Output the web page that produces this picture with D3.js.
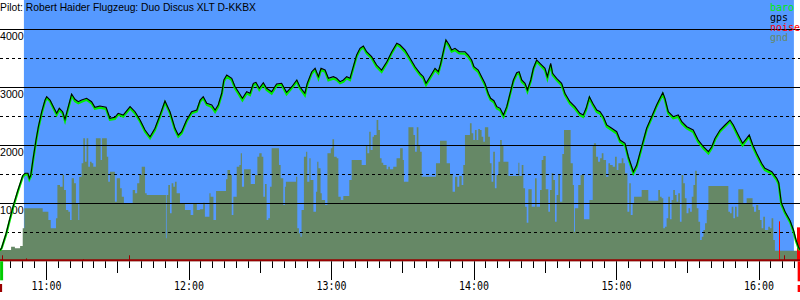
<!DOCTYPE html>
<html><head><meta charset="utf-8">
<script src="https://cdn.jsdelivr.net/npm/d3@7"></script>
<style>html,body{margin:0;padding:0;background:#fff}svg{display:block}</style>
</head><body><svg id="c" width="800" height="300"></svg>
<script>
// ---------------- data ----------------
const title = "Pilot: Robert Haider Flugzeug: Duo Discus XLT D-KKBX";
const legendLabels = ["baro", "gps", "noise", "gnd"];
const altTicksSolid = [1000, 2000, 3000, 4000];
const altTicksDashed = [500, 1500, 2500, 3500];
const hourLabels = ["11:00", "12:00", "13:00", "14:00", "15:00", "16:00"];
// times are minutes after midnight
const viewStartMin = 640.63, viewEndMin = 977.47;
const taskStartMin = 650.7, taskEndMin = 974.9;
const takeoffMin = 641.1, landingMin = 976.9;

const trackMin = [
640.6, 641.3, 643.2, 644.8, 646.5, 648.2, 650.2, 651.2, 652.4, 653.0,
653.6, 654.5, 655.8, 656.8, 658.2, 659.6, 660.3, 661.7, 663.1, 664.5,
665.6, 667.0, 668.0, 669.4, 670.8, 672.2, 673.6, 675.0, 677.1, 679.2,
680.6, 682.7, 685.3, 686.9, 689.0, 690.4, 692.5, 695.4, 697.5, 699.6,
701.7, 703.8, 705.9, 708.0, 710.1, 712.2, 714.3, 715.7, 717.1, 719.2,
721.3, 723.5, 724.9, 726.2, 727.7, 729.8, 731.2, 732.5, 734.0, 734.9,
736.1, 738.2, 739.6, 741.0, 742.7, 744.5, 745.9, 747.3, 748.4, 749.8,
751.5, 752.9, 755.0, 757.1, 759.2, 761.3, 763.5, 765.6, 766.9, 769.0,
770.0, 771.9, 773.3, 774.7, 775.8, 777.5, 778.9, 781.0, 782.4, 783.8,
785.2, 786.6, 788.0, 789.4, 790.8, 792.2, 793.6, 795.0, 797.1, 799.2,
801.3, 803.5, 805.6, 807.7, 809.1, 811.2, 813.3, 815.4, 817.5, 818.9,
820.0, 821.7, 823.8, 825.2, 826.2, 827.6, 828.4, 829.8, 830.8, 832.2,
834.0, 836.4, 837.8, 839.2, 840.2, 842.0, 843.4, 844.8, 846.2, 847.2,
848.6, 849.8, 851.2, 852.6, 854.0, 855.4, 856.8, 858.2, 859.2, 860.3,
861.7, 862.7, 864.1, 865.2, 866.6, 868.0, 870.1, 871.1, 872.5, 873.3,
875.0, 877.1, 878.5, 880.6, 882.7, 884.8, 886.2, 887.4, 888.8, 890.2,
891.9, 893.3, 894.7, 896.1, 898.2, 900.3, 901.7, 903.8, 905.2, 907.3,
908.7, 910.8, 912.9, 915.0, 917.1, 918.5, 919.7, 920.6, 922.0, 924.1,
926.2, 927.7, 929.8, 932.5, 934.6, 936.8, 938.9, 940.3, 941.7, 943.8,
945.9, 948.0, 949.4, 951.5, 953.3, 955.0, 956.1, 957.6, 959.2, 961.3,
962.7, 965.6, 967.7, 968.5, 969.6, 971.2, 973.3, 974.7, 975.8, 976.8,
977.4];

const gpsAlt = [
190, 230, 480, 740, 1000, 1230, 1480, 1517, 1517, 1431,
1488, 1750, 2091, 2321, 2579, 2781, 2838, 2781, 2666, 2552,
2638, 2579, 2448, 2666, 2884, 2793, 2752, 2781, 2810, 2752,
2655, 2678, 2655, 2466, 2483, 2552, 2522, 2666, 2579, 2436,
2264, 2148, 2293, 2522, 2764, 2579, 2293, 2178, 2234, 2436,
2579, 2609, 2781, 2838, 2724, 2695, 2609, 2695, 2897, 3126,
3212, 3155, 3010, 2924, 2810, 2924, 2897, 3069, 3086, 2983,
3079, 2983, 2924, 3057, 3069, 2914, 3010, 3126, 3010, 2897,
3069, 3269, 3328, 3183, 3328, 3298, 3155, 3183, 3155, 3097,
3126, 3183, 3155, 3355, 3557, 3672, 3712, 3614, 3528, 3384,
3298, 3441, 3614, 3759, 3729, 3643, 3500, 3355, 3241, 3183,
3069, 3183, 3328, 3269, 3414, 3672, 3816, 3729, 3643, 3672,
3614, 3614, 3557, 3471, 3355, 3298, 3183, 3069, 2897, 2810,
2769, 2666, 2638, 2522, 2666, 2897, 3126, 3252, 3269, 3126,
3069, 2953, 3126, 3328, 3471, 3414, 3328, 3183, 3414, 3241,
3155, 3069, 2897, 2752, 2666, 2552, 2522, 2638, 2838, 2724,
2609, 2579, 2493, 2350, 2293, 2234, 2091, 2034, 1803, 1545,
1660, 1976, 2293, 2493, 2695, 2810, 2907, 2810, 2579, 2493,
2522, 2407, 2321, 2264, 2091, 1976, 1890, 1976, 2121, 2264,
2350, 2436, 2350, 2178, 2034, 2121, 2178, 2005, 1862, 1690,
1603, 1545, 1430, 1360, 1010, 855, 700, 540, 370, 250,
200];

const baroAlt = [
185, 220, 460, 715, 975, 1205, 1455, 1500, 1495, 1410,
1460, 1720, 2065, 2295, 2550, 2755, 2815, 2760, 2640, 2525,
2610, 2555, 2420, 2640, 2855, 2760, 2725, 2750, 2785, 2725,
2630, 2650, 2625, 2440, 2455, 2530, 2495, 2640, 2550, 2410,
2235, 2120, 2265, 2495, 2740, 2550, 2265, 2150, 2205, 2410,
2555, 2585, 2755, 2810, 2695, 2660, 2575, 2665, 2870, 3100,
3185, 3125, 2980, 2890, 2775, 2895, 2865, 3040, 3060, 2955,
3050, 2955, 2890, 3030, 3045, 2880, 2985, 3100, 2980, 2860,
3040, 3240, 3300, 3150, 3300, 3270, 3120, 3150, 3125, 3070,
3095, 3155, 3125, 3330, 3530, 3645, 3690, 3585, 3500, 3355,
3265, 3415, 3590, 3735, 3700, 3610, 3470, 3325, 3210, 3150,
3040, 3155, 3300, 3240, 3390, 3650, 3790, 3700, 3615, 3640,
3585, 3580, 3525, 3440, 3325, 3265, 3150, 3040, 2870, 2780,
2740, 2635, 2605, 2495, 2640, 2875, 3100, 3225, 3240, 3095,
3040, 2925, 3100, 3305, 3445, 3385, 3295, 3150, 3385, 3210,
3125, 3035, 2865, 2720, 2635, 2520, 2490, 2610, 2810, 2695,
2575, 2545, 2460, 2320, 2260, 2200, 2060, 2000, 1775, 1515,
1630, 1950, 2265, 2465, 2670, 2785, 2880, 2780, 2550, 2465,
2490, 2375, 2290, 2230, 2060, 1945, 1860, 1950, 2095, 2240,
2325, 2410, 2320, 2145, 2000, 2095, 2150, 1975, 1830, 1660,
1570, 1515, 1400, 1330, 980, 830, 675, 515, 345, 230,
190];

const gndMin = [
640.6, 645.3, 646.9, 649.1, 650.2, 650.9, 658.6, 661.0, 662.0, 664.2,
664.8, 665.9, 667.0, 667.6, 668.4, 669.4, 670.1, 670.8, 671.8, 672.6,
673.6, 674.0, 675.0, 675.7, 676.4, 677.1, 677.8, 678.5, 679.2, 679.9,
681.0, 683.0, 683.6, 685.6, 686.2, 686.9, 689.0, 689.8, 691.2, 691.9,
692.8, 696.5, 697.5, 698.4, 699.3, 700.3, 701.7, 702.4, 710.5, 710.8,
711.5, 712.2, 712.9, 713.6, 714.3, 715.0, 716.4, 718.5, 720.9, 722.0,
723.5, 724.8, 726.2, 726.9, 728.8, 729.3, 730.5, 731.6, 735.8, 736.4,
737.5, 738.2, 738.9, 740.3, 741.4, 742.0, 742.5, 743.4, 746.2, 748.0,
749.0, 749.8, 750.8, 751.5, 752.2, 752.9, 753.6, 754.3, 755.0, 758.1,
758.8, 759.9, 760.6, 761.0, 765.3, 765.8, 766.5, 767.2, 767.6, 768.6,
769.5, 770.0, 770.9, 771.4, 772.6, 773.7, 774.2, 774.7, 775.6, 776.1,
777.5, 778.5, 779.9, 780.6, 781.3, 782.4, 783.1, 784.1, 785.2, 787.7,
788.7, 792.9, 794.7, 795.3, 796.1, 796.7, 797.5, 798.1, 799.2, 799.9,
800.6, 801.3, 802.0, 803.4, 804.1, 804.8, 806.2, 807.6, 809.1, 810.2,
810.7, 812.6, 814.7, 815.4, 816.1, 816.8, 817.5, 818.2, 824.2, 825.9,
828.7, 830.1, 831.2, 832.2, 833.2, 834.0, 835.0, 835.7, 836.4, 838.5,
839.2, 839.9, 840.6, 841.3, 842.0, 842.7, 843.4, 844.1, 844.8, 846.2,
846.9, 847.6, 848.3, 849.0, 849.7, 850.5, 851.2, 851.9, 852.6, 854.7,
858.9, 859.3, 860.3, 861.0, 861.7, 862.4, 863.1, 864.5, 865.9, 866.6,
868.0, 868.7, 869.4, 870.4, 871.5, 872.2, 872.9, 873.6, 874.3, 875.0,
875.7, 876.4, 877.4, 878.1, 880.9, 881.8, 882.3, 882.7, 884.1, 885.1,
886.5, 888.8, 890.2, 890.7, 891.6, 892.4, 893.3, 894.0, 894.7, 895.8,
896.8, 897.5, 898.6, 899.6, 900.3, 901.0, 902.4, 903.1, 903.8, 904.8,
905.6, 906.2, 907.0, 907.6, 910.8, 913.6, 917.8, 918.5, 919.2, 919.9,
920.6, 921.3, 922.0, 922.7, 923.4, 924.1, 924.8, 925.5, 926.2, 926.9,
927.6, 928.3, 929.0, 929.7, 930.5, 931.2, 931.9, 932.6, 933.3, 934.0,
934.7, 935.4, 936.1, 936.8, 937.5, 938.2, 938.9, 947.3, 948.0, 948.7,
949.4, 950.1, 950.8, 951.5, 953.6, 955.0, 957.5, 958.1, 959.0, 959.9,
960.6, 961.3, 962.0, 962.7, 964.1, 964.8, 965.5, 966.2, 966.9, 977.5];

const gndAlt = [
195, 253, 224, 264, 568, 913, 856, 712, 568, 741,
1316, 1287, 1488, 1229, 885, 856, 712, 1431, 1344, 1000,
712, 1459, 1689, 2120, 1718, 2120, 1632, 1718, 1689, 1632,
2120, 1747, 2120, 1804, 1373, 1546, 1028, 1431, 1258, 1115,
1000, 1229, 1172, 1344, 1488, 1632, 1172, 1143, 396, 1143,
1316, 827, 1344, 1287, 1373, 1172, 1000, 885, 798, 1000,
885, 896, 1011, 770, 1172, 1115, 712, 1212, 1413, 1574,
1488, 798, 1115, 1632, 1661, 1862, 1287, 1586, 1333, 1488,
1804, 1862, 1804, 1115, 1333, 712, 741, 1287, 1948, 1661,
1431, 971, 1287, 1373, 1459, 568, 482, 425, 885, 1804,
1890, 1373, 1775, 1402, 856, 1201, 1718, 1603, 1172, 1057,
971, 1862, 1948, 2103, 1804, 1775, 1115, 1057, 1126, 1402,
1747, 1661, 2005, 1862, 2235, 1919, 2149, 2178, 2436, 2264,
1775, 1701, 1661, 1586, 1632, 1586, 1632, 1775, 1948, 1747,
1373, 2310, 2178, 1890, 2310, 2005, 1890, 1459, 1689, 2080,
1689, 1488, 1201, 1459, 1287, 1471, 1316, 1661, 2178, 2379,
2206, 2091, 2264, 2091, 2281, 2264, 2149, 2063, 2310, 2149,
1689, 1373, 1890, 1258, 1488, 1718, 2091, 2005, 1718, 1471,
1701, 1471, 1661, 1258, 942, 666, 1241, 942, 1431, 942,
1229, 1747, 1816, 1241, 856, 1229, 1517, 1402, 683, 1143,
1505, 1028, 1850, 2264, 1689, 1316, 511, 913, 1316, 1488,
724, 1057, 2005, 2034, 1804, 1718, 1775, 1862, 1747, 1459,
1689, 1661, 1632, 1804, 1574, 1689, 1775, 1689, 1517, 856,
1344, 798, 1000, 1115, 1229, 1046, 1229, 1115, 1086, 568,
597, 741, 1115, 724, 1057, 1229, 1143, 1028, 1172, 683,
1488, 1344, 1086, 827, 913, 856, 1115, 1316, 1563, 913,
683, 367, 425, 540, 655, 885, 1298, 856, 827, 942,
741, 942, 770, 1241, 1000, 1086, 942, 856, 971, 885,
712, 568, 770, 540, 597, 568, 741, 367, 183, 183];

const noiseMin = [641.3, 651.7, 668.7, 675.7, 695.1, 716.8, 826.9, 968.8, 970.9, 976.4, 976.8, 977.2];
const noiseLevel = [23, 11, 4, 8, 23, 4, 4, 153, 23, 130, 130, 130];

// ---------------- drawing ----------------
const W = 800, H = 300;
const svg = d3.select("#c");
const toDate = m => new Date(2020, 6, 1, 0, 0, Math.round(m * 60));
const x = d3.scaleTime().domain([toDate(viewStartMin), toDate(viewEndMin)]).range([0, W]);
const y = d3.scaleLinear().domain([0, 4500]).range([261.3, 0.3]);
const yNoise = d3.scaleLinear().domain([0, 1000]).range([261.3, 0.3]);
const crisp = v => Math.round(v) + 0.5;

const blue = "#5599ff", gndColor = "#668866", baroColor = "#00ee00", axisColor = "#990000";

// sky band
svg.append("rect")
  .attr("x", x(toDate(taskStartMin))).attr("y", 0)
  .attr("width", x(toDate(taskEndMin)) - x(toDate(taskStartMin)))
  .attr("height", y(0) - 1)
  .attr("fill", blue);

// ground
const gnd = gndMin.map((m, i) => ({t: toDate(m), a: gndAlt[i]}));
svg.append("path").datum(gnd)
  .attr("fill", gndColor)
  .attr("d", d3.area().x(d => x(d.t)).y0(y(0)).y1(d => y(d.a)).curve(d3.curveStepAfter));

// grid
svg.selectAll("line.gs").data(altTicksSolid).join("line")
  .attr("x1", 0).attr("x2", W)
  .attr("y1", d => crisp(y(d) - 0.5)).attr("y2", d => crisp(y(d) - 0.5))
  .attr("stroke", "#000").attr("stroke-width", 1);
svg.selectAll("line.gd").data(altTicksDashed).join("line")
  .attr("x1", 0).attr("x2", W)
  .attr("y1", d => crisp(y(d) - 0.5)).attr("y2", d => crisp(y(d) - 0.5))
  .attr("stroke", "#000").attr("stroke-width", 1).attr("stroke-dasharray", "3,3");

// altitude labels
svg.selectAll("text.yl").data(altTicksSolid).join("text")
  .attr("x", 0).attr("y", d => y(d) + 11)
  .attr("font-family", "Liberation Sans, Arial, sans-serif").attr("font-size", 10.6)
  .attr("fill", "#000").text(d => d);

// noise
svg.selectAll("line.noise").data(noiseMin.map((m, i) => ({t: toDate(m), v: noiseLevel[i]}))).join("line")
  .attr("x1", d => crisp(x(d.t))).attr("x2", d => crisp(x(d.t)))
  .attr("y1", y(0) - 1).attr("y2", d => yNoise(d.v))
  .attr("stroke", d => d.v < 50 ? axisColor : "#ff0000").attr("stroke-width", 1);

// tracks
const track = trackMin.map((m, i) => ({t: toDate(m), g: gpsAlt[i], b: baroAlt[i]}));
svg.append("path").datum(track)
  .attr("fill", "none").attr("stroke", baroColor).attr("stroke-width", 2.2)
  .attr("d", d3.line().x(d => x(d.t)).y(d => y(d.b)));
svg.append("path").datum(track)
  .attr("fill", "none").attr("stroke", "#000").attr("stroke-width", 1.1)
  .attr("d", d3.line().x(d => x(d.t)).y(d => y(d.g)));

// time axis
svg.append("line").attr("x1", 0).attr("x2", W)
  .attr("y1", y(0) - 1).attr("y2", y(0) - 1)
  .attr("stroke", axisColor).attr("stroke-width", 2);
const ticks = d3.timeMinute.every(5).range(x.domain()[0], x.domain()[1]);
svg.selectAll("line.tk").data(ticks).join("line")
  .attr("x1", d => crisp(x(d))).attr("x2", d => crisp(x(d)))
  .attr("y1", y(0))
  .attr("y2", d => d.getMinutes() === 0 ? 280 : d.getMinutes() === 30 ? 273 : 268)
  .attr("stroke", "#000").attr("stroke-width", 1);
svg.selectAll("text.hl").data(hourLabels).join("text")
  .attr("x", d => { const [h, mm] = d.split(":").map(Number); return x(toDate(h * 60 + mm)) + 0.5; })
  .attr("y", 290)
  .attr("text-anchor", "middle")
  .attr("font-family", "DejaVu Sans Mono, monospace").attr("font-size", 12)
  .attr("textLength", 30).attr("lengthAdjust", "spacingAndGlyphs")
  .attr("fill", "#000").text(d => d);

// takeoff / landing markers
svg.append("rect").attr("x", x(toDate(takeoffMin)) - 1).attr("y", y(0)).attr("width", 3).attr("height", 19).attr("fill", "#00cc00");
svg.append("rect").attr("x", x(toDate(takeoffMin)) - 2).attr("y", 284).attr("width", 3).attr("height", 8).attr("fill", axisColor);
svg.append("rect").attr("x", x(toDate(landingMin)) - 1).attr("y", y(0)).attr("width", 3).attr("height", 20).attr("fill", "#ff0000");
svg.append("rect").attr("x", x(toDate(landingMin)) - 1).attr("y", 285).attr("width", 3).attr("height", 7).attr("fill", "#ff0000");

// title
svg.append("text").attr("x", 0).attr("y", 10.5)
  .attr("font-family", "Liberation Sans, Arial, sans-serif").attr("font-size", 11)
  .attr("textLength", 256).attr("lengthAdjust", "spacingAndGlyphs")
  .attr("fill", "#000").text(title);

// legend
const legendColors = [baroColor, "#000", "#ff0000", gndColor];
svg.selectAll("text.lg").data(legendLabels).join("text")
  .attr("x", 770).attr("y", (d, i) => 10.5 + i * 10)
  .attr("font-family", "DejaVu Sans Mono, monospace").attr("font-size", 10)
  .attr("fill", (d, i) => legendColors[i]).text(d => d);
</script></body></html>
